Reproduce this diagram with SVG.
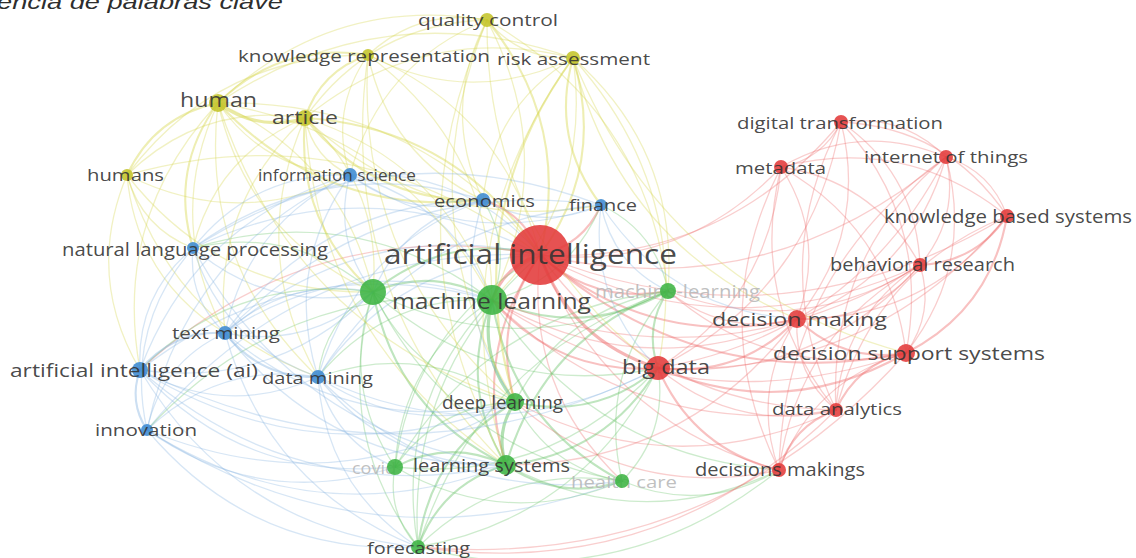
<svg xmlns="http://www.w3.org/2000/svg" width="1136" height="558" viewBox="0 0 1136 558">
<style>
#edges path{fill:none;vector-effect:non-scaling-stroke;stroke-linecap:round}
.r{stroke:#ee6b6b}.g{stroke:#66c266}.y{stroke:#d6d64a}.bl{stroke:#86b2e0}
.a{stroke-width:1.3;stroke-opacity:.33}.b{stroke-width:2.1;stroke-opacity:.42}.c{stroke-width:3.2;stroke-opacity:.5}
.nr{fill:#e33a3a}.ng{fill:#3db443}.ny{fill:#c4c42a}.nb{fill:#3c8ad2}
circle{fill-opacity:.88}
text{font-family:"Open Sans","DejaVu Sans",sans-serif;fill:#333;fill-opacity:.9}
.f{fill:#b8b8b8}
.t{font-family:"Liberation Sans",Arial,sans-serif;font-style:italic;fill:#111}
</style>
<rect width="1136" height="558" fill="#fff"/>
<text class="t" x="-3" y="9" font-size="21" textLength="286" lengthAdjust="spacingAndGlyphs">encia de palabras clave</text>
<g id="edges">
<path class="r c" transform="matrix(-48 45 -45 -48 540 255)" d="M0 0Q.5 .25 1 0"/>
<path class="g b" transform="matrix(-167 37 -37 -167 540 255)" d="M0 0Q.5 .25 1 0"/>
<path class="r b" transform="matrix(128 36 -36 128 540 255)" d="M0 0Q.5 .25 1 0"/>
<path class="r b" transform="matrix(-25 147 -147 -25 540 255)" d="M0 0Q.5 .25 1 0"/>
<path class="r b" transform="matrix(-34 210 -210 -34 540 255)" d="M0 0Q.5 .25 1 0"/>
<path class="g a" transform="matrix(-145 212 -212 -145 540 255)" d="M0 0Q.5 .25 1 0"/>
<path class="r a" transform="matrix(82 226 -226 82 540 255)" d="M0 0Q.5 .25 1 0"/>
<path class="g a" transform="matrix(-122 292 -292 -122 540 255)" d="M0 0Q.5 .25 1 0"/>
<path class="r c" transform="matrix(118 113 -113 118 540 255)" d="M0 0Q.5 .25 1 0"/>
<path class="r b" transform="matrix(257 64 -64 257 540 255)" d="M0 0Q.5 .25 1 0"/>
<path class="r b" transform="matrix(366 98 -98 366 540 255)" d="M0 0Q.5 .25 1 0"/>
<path class="r a" transform="matrix(380 10 -10 380 540 255)" d="M0 0Q.5 .25 1 0"/>
<path class="r a" transform="matrix(467 -39 39 467 540 255)" d="M0 0Q.5 .25 1 0"/>
<path class="r a" transform="matrix(406 -98 98 406 540 255)" d="M0 0Q.5 .25 1 0"/>
<path class="r a" transform="matrix(241 -88 88 241 540 255)" d="M0 0Q.5 .25 1 0"/>
<path class="r a" transform="matrix(301 -133 133 301 540 255)" d="M0 0Q.5 .25 1 0"/>
<path class="r a" transform="matrix(296 155 -155 296 540 255)" d="M0 0Q.5 .25 1 0"/>
<path class="r a" transform="matrix(239 215 -215 239 540 255)" d="M0 0Q.5 .25 1 0"/>
<path class="y b" transform="matrix(-53 -235 235 -53 540 255)" d="M0 0Q.5 .25 1 0"/>
<path class="y a" transform="matrix(-172 -200 200 -172 540 255)" d="M0 0Q.5 .25 1 0"/>
<path class="y b" transform="matrix(33 -197 197 33 540 255)" d="M0 0Q.5 .25 1 0"/>
<path class="y a" transform="matrix(-322 -152 152 -322 540 255)" d="M0 0Q.5 .25 1 0"/>
<path class="y b" transform="matrix(-235 -137 137 -235 540 255)" d="M0 0Q.5 .25 1 0"/>
<path class="y a" transform="matrix(-413 -80 80 -413 540 255)" d="M0 0Q.5 .25 1 0"/>
<path class="bl a" transform="matrix(-190 -80 80 -190 540 255)" d="M0 0Q.5 .25 1 0"/>
<path class="r b" transform="matrix(-57 -55 55 -57 540 255)" d="M0 0Q.5 .25 1 0"/>
<path class="r b" transform="matrix(61 -50 50 61 540 255)" d="M0 0Q.5 .25 1 0"/>
<path class="bl a" transform="matrix(-347 -7 7 -347 540 255)" d="M0 0Q.5 .25 1 0"/>
<path class="bl a" transform="matrix(-315 78 -78 -315 540 255)" d="M0 0Q.5 .25 1 0"/>
<path class="r a" transform="matrix(-400 115 -115 -400 540 255)" d="M0 0Q.5 .25 1 0"/>
<path class="bl a" transform="matrix(-222 122 -122 -222 540 255)" d="M0 0Q.5 .25 1 0"/>
<path class="bl a" transform="matrix(-393 175 -175 -393 540 255)" d="M0 0Q.5 .25 1 0"/>
<path class="g b" transform="matrix(-119 -8 8 -119 492 300)" d="M0 0Q.5 .25 1 0"/>
<path class="g b" transform="matrix(176 -9 9 176 492 300)" d="M0 0Q.5 .25 1 0"/>
<path class="g c" transform="matrix(23 102 -102 23 492 300)" d="M0 0Q.5 .25 1 0"/>
<path class="g b" transform="matrix(14 165 -165 14 492 300)" d="M0 0Q.5 .25 1 0"/>
<path class="g a" transform="matrix(-97 167 -167 -97 492 300)" d="M0 0Q.5 .25 1 0"/>
<path class="g b" transform="matrix(130 181 -181 130 492 300)" d="M0 0Q.5 .25 1 0"/>
<path class="g a" transform="matrix(-74 247 -247 -74 492 300)" d="M0 0Q.5 .25 1 0"/>
<path class="r b" transform="matrix(166 68 -68 166 492 300)" d="M0 0Q.5 .25 1 0"/>
<path class="r a" transform="matrix(305 19 -19 305 492 300)" d="M0 0Q.5 .25 1 0"/>
<path class="r a" transform="matrix(414 53 -53 414 492 300)" d="M0 0Q.5 .25 1 0"/>
<path class="r a" transform="matrix(344 110 -110 344 492 300)" d="M0 0Q.5 .25 1 0"/>
<path class="g a" transform="matrix(287 170 -170 287 492 300)" d="M0 0Q.5 .25 1 0"/>
<path class="bl a" transform="matrix(-267 33 -33 -267 492 300)" d="M0 0Q.5 .25 1 0"/>
<path class="g a" transform="matrix(-174 77 -77 -174 492 300)" d="M0 0Q.5 .25 1 0"/>
<path class="bl a" transform="matrix(-352 70 -70 -352 492 300)" d="M0 0Q.5 .25 1 0"/>
<path class="g a" transform="matrix(-299 -52 52 -299 492 300)" d="M0 0Q.5 .25 1 0"/>
<path class="bl a" transform="matrix(-142 -125 125 -142 492 300)" d="M0 0Q.5 .25 1 0"/>
<path class="y a" transform="matrix(-187 -182 182 -187 492 300)" d="M0 0Q.5 .25 1 0"/>
<path class="y a" transform="matrix(-274 -197 197 -274 492 300)" d="M0 0Q.5 .25 1 0"/>
<path class="y a" transform="matrix(-124 -245 245 -124 492 300)" d="M0 0Q.5 .25 1 0"/>
<path class="y a" transform="matrix(-5 -280 280 -5 492 300)" d="M0 0Q.5 .25 1 0"/>
<path class="y a" transform="matrix(81 -242 242 81 492 300)" d="M0 0Q.5 .25 1 0"/>
<path class="g a" transform="matrix(-9 -100 100 -9 492 300)" d="M0 0Q.5 .25 1 0"/>
<path class="g a" transform="matrix(109 -95 95 109 492 300)" d="M0 0Q.5 .25 1 0"/>
<path class="r a" transform="matrix(428 -35 35 428 492 300)" d="M0 0Q.5 .25 1 0"/>
<path class="g a" transform="matrix(-345 130 -130 -345 492 300)" d="M0 0Q.5 .25 1 0"/>
<path class="g a" transform="matrix(142 110 -110 142 373 292)" d="M0 0Q.5 .25 1 0"/>
<path class="g b" transform="matrix(133 173 -173 133 373 292)" d="M0 0Q.5 .25 1 0"/>
<path class="g a" transform="matrix(22 175 -175 22 373 292)" d="M0 0Q.5 .25 1 0"/>
<path class="g a" transform="matrix(45 255 -255 45 373 292)" d="M0 0Q.5 .25 1 0"/>
<path class="g a" transform="matrix(249 189 -189 249 373 292)" d="M0 0Q.5 .25 1 0"/>
<path class="bl a" transform="matrix(-148 41 -41 -148 373 292)" d="M0 0Q.5 .25 1 0"/>
<path class="g a" transform="matrix(-55 85 -85 -55 373 292)" d="M0 0Q.5 .25 1 0"/>
<path class="g a" transform="matrix(-180 -44 44 -180 373 292)" d="M0 0Q.5 .25 1 0"/>
<path class="y a" transform="matrix(-155 -189 189 -155 373 292)" d="M0 0Q.5 .25 1 0"/>
<path class="y a" transform="matrix(-68 -174 174 -68 373 292)" d="M0 0Q.5 .25 1 0"/>
<path class="g a" transform="matrix(285 76 -76 285 373 292)" d="M0 0Q.5 .25 1 0"/>
<path class="g a" transform="matrix(295 -1 1 295 373 292)" d="M0 0Q.5 .25 1 0"/>
<path class="g a" transform="matrix(-233 78 -78 -233 373 292)" d="M0 0Q.5 .25 1 0"/>
<path class="g b" transform="matrix(-10 77 -77 -10 668 291)" d="M0 0Q.5 .25 1 0"/>
<path class="g a" transform="matrix(-153 111 -111 -153 668 291)" d="M0 0Q.5 .25 1 0"/>
<path class="g b" transform="matrix(-162 174 -174 -162 668 291)" d="M0 0Q.5 .25 1 0"/>
<path class="g a" transform="matrix(-46 190 -190 -46 668 291)" d="M0 0Q.5 .25 1 0"/>
<path class="r a" transform="matrix(129 28 -28 129 668 291)" d="M0 0Q.5 .25 1 0"/>
<path class="r a" transform="matrix(238 62 -62 238 668 291)" d="M0 0Q.5 .25 1 0"/>
<path class="g a" transform="matrix(-250 256 -256 -250 668 291)" d="M0 0Q.5 .25 1 0"/>
<path class="g a" transform="matrix(-273 176 -176 -273 668 291)" d="M0 0Q.5 .25 1 0"/>
<path class="y a" transform="matrix(-95 -233 233 -95 668 291)" d="M0 0Q.5 .25 1 0"/>
<path class="y a" transform="matrix(-181 -271 271 -181 668 291)" d="M0 0Q.5 .25 1 0"/>
<path class="g a" transform="matrix(-67 -86 86 -67 668 291)" d="M0 0Q.5 .25 1 0"/>
<path class="r a" transform="matrix(252 -26 26 252 668 291)" d="M0 0Q.5 .25 1 0"/>
<path class="g c" transform="matrix(-9 63 -63 -9 515 402)" d="M0 0Q.5 .25 1 0"/>
<path class="g a" transform="matrix(-120 65 -65 -120 515 402)" d="M0 0Q.5 .25 1 0"/>
<path class="g a" transform="matrix(107 79 -79 107 515 402)" d="M0 0Q.5 .25 1 0"/>
<path class="g b" transform="matrix(-97 145 -145 -97 515 402)" d="M0 0Q.5 .25 1 0"/>
<path class="g b" transform="matrix(143 -34 34 143 515 402)" d="M0 0Q.5 .25 1 0"/>
<path class="g a" transform="matrix(-197 -25 25 -197 515 402)" d="M0 0Q.5 .25 1 0"/>
<path class="r a" transform="matrix(321 8 -8 321 515 402)" d="M0 0Q.5 .25 1 0"/>
<path class="r a" transform="matrix(264 68 -68 264 515 402)" d="M0 0Q.5 .25 1 0"/>
<path class="g b" transform="matrix(-111 2 -2 -111 506 465)" d="M0 0Q.5 .25 1 0"/>
<path class="g b" transform="matrix(116 16 -16 116 506 465)" d="M0 0Q.5 .25 1 0"/>
<path class="g b" transform="matrix(-88 82 -82 -88 506 465)" d="M0 0Q.5 .25 1 0"/>
<path class="g b" transform="matrix(152 -97 97 152 506 465)" d="M0 0Q.5 .25 1 0"/>
<path class="g a" transform="matrix(273 5 -5 273 506 465)" d="M0 0Q.5 .25 1 0"/>
<path class="r a" transform="matrix(291 -146 146 291 506 465)" d="M0 0Q.5 .25 1 0"/>
<path class="g a" transform="matrix(23 80 -80 23 395 467)" d="M0 0Q.5 .25 1 0"/>
<path class="g a" transform="matrix(227 14 -14 227 395 467)" d="M0 0Q.5 .25 1 0"/>
<path class="g a" transform="matrix(263 -99 99 263 395 467)" d="M0 0Q.5 .25 1 0"/>
<path class="g a" transform="matrix(-204 66 -66 -204 622 481)" d="M0 0Q.5 .25 1 0"/>
<path class="g a" transform="matrix(36 -113 113 36 622 481)" d="M0 0Q.5 .25 1 0"/>
<path class="g a" transform="matrix(157 -11 11 157 622 481)" d="M0 0Q.5 .25 1 0"/>
<path class="g a" transform="matrix(240 -179 179 240 418 547)" d="M0 0Q.5 .25 1 0"/>
<path class="g a" transform="matrix(361 -77 77 361 418 547)" d="M0 0Q.5 .25 1 0"/>
<path class="r a" transform="matrix(418 -137 137 418 418 547)" d="M0 0Q.5 .25 1 0"/>
<path class="r a" transform="matrix(488 -194 194 488 418 547)" d="M0 0Q.5 .25 1 0"/>
<path class="r b" transform="matrix(139 -49 49 139 658 368)" d="M0 0Q.5 .25 1 0"/>
<path class="r b" transform="matrix(248 -15 15 248 658 368)" d="M0 0Q.5 .25 1 0"/>
<path class="r a" transform="matrix(178 42 -42 178 658 368)" d="M0 0Q.5 .25 1 0"/>
<path class="r b" transform="matrix(121 102 -102 121 658 368)" d="M0 0Q.5 .25 1 0"/>
<path class="r a" transform="matrix(262 -103 103 262 658 368)" d="M0 0Q.5 .25 1 0"/>
<path class="r a" transform="matrix(123 -201 201 123 658 368)" d="M0 0Q.5 .25 1 0"/>
<path class="r a" transform="matrix(183 -246 246 183 658 368)" d="M0 0Q.5 .25 1 0"/>
<path class="r a" transform="matrix(288 -211 211 288 658 368)" d="M0 0Q.5 .25 1 0"/>
<path class="r a" transform="matrix(349 -152 152 349 658 368)" d="M0 0Q.5 .25 1 0"/>
<path class="y a" transform="matrix(-85 -310 310 -85 658 368)" d="M0 0Q.5 .25 1 0"/>
<path class="r b" transform="matrix(109 34 -34 109 797 319)" d="M0 0Q.5 .25 1 0"/>
<path class="r a" transform="matrix(39 91 -91 39 797 319)" d="M0 0Q.5 .25 1 0"/>
<path class="r a" transform="matrix(-18 151 -151 -18 797 319)" d="M0 0Q.5 .25 1 0"/>
<path class="r a" transform="matrix(123 -54 54 123 797 319)" d="M0 0Q.5 .25 1 0"/>
<path class="r a" transform="matrix(210 -103 103 210 797 319)" d="M0 0Q.5 .25 1 0"/>
<path class="r a" transform="matrix(149 -162 162 149 797 319)" d="M0 0Q.5 .25 1 0"/>
<path class="r a" transform="matrix(-16 -152 152 -16 797 319)" d="M0 0Q.5 .25 1 0"/>
<path class="r a" transform="matrix(44 -197 197 44 797 319)" d="M0 0Q.5 .25 1 0"/>
<path class="r b" transform="matrix(-70 57 -57 -70 906 353)" d="M0 0Q.5 .25 1 0"/>
<path class="r a" transform="matrix(-127 117 -117 -127 906 353)" d="M0 0Q.5 .25 1 0"/>
<path class="r a" transform="matrix(14 -88 88 14 906 353)" d="M0 0Q.5 .25 1 0"/>
<path class="r b" transform="matrix(101 -137 137 101 906 353)" d="M0 0Q.5 .25 1 0"/>
<path class="r a" transform="matrix(40 -196 196 40 906 353)" d="M0 0Q.5 .25 1 0"/>
<path class="r a" transform="matrix(-125 -186 186 -125 906 353)" d="M0 0Q.5 .25 1 0"/>
<path class="r a" transform="matrix(-65 -231 231 -65 906 353)" d="M0 0Q.5 .25 1 0"/>
<path class="r b" transform="matrix(87 -49 49 87 920 265)" d="M0 0Q.5 .25 1 0"/>
<path class="r a" transform="matrix(26 -108 108 26 920 265)" d="M0 0Q.5 .25 1 0"/>
<path class="r a" transform="matrix(-139 -98 98 -139 920 265)" d="M0 0Q.5 .25 1 0"/>
<path class="r a" transform="matrix(-79 -143 143 -79 920 265)" d="M0 0Q.5 .25 1 0"/>
<path class="r a" transform="matrix(-84 145 -145 -84 920 265)" d="M0 0Q.5 .25 1 0"/>
<path class="r a" transform="matrix(-141 205 -205 -141 920 265)" d="M0 0Q.5 .25 1 0"/>
<path class="r a" transform="matrix(-61 -59 59 -61 1007 216)" d="M0 0Q.5 .25 1 0"/>
<path class="r a" transform="matrix(-226 -49 49 -226 1007 216)" d="M0 0Q.5 .25 1 0"/>
<path class="r a" transform="matrix(-166 -94 94 -166 1007 216)" d="M0 0Q.5 .25 1 0"/>
<path class="r a" transform="matrix(-171 194 -194 -171 1007 216)" d="M0 0Q.5 .25 1 0"/>
<path class="r a" transform="matrix(-165 10 -10 -165 946 157)" d="M0 0Q.5 .25 1 0"/>
<path class="r a" transform="matrix(-105 -35 35 -105 946 157)" d="M0 0Q.5 .25 1 0"/>
<path class="r a" transform="matrix(-110 253 -253 -110 946 157)" d="M0 0Q.5 .25 1 0"/>
<path class="r a" transform="matrix(-167 313 -313 -167 946 157)" d="M0 0Q.5 .25 1 0"/>
<path class="r a" transform="matrix(60 -45 45 60 781 167)" d="M0 0Q.5 .25 1 0"/>
<path class="r a" transform="matrix(55 243 -243 55 781 167)" d="M0 0Q.5 .25 1 0"/>
<path class="r a" transform="matrix(-2 303 -303 -2 781 167)" d="M0 0Q.5 .25 1 0"/>
<path class="r a" transform="matrix(-5 288 -288 -5 841 122)" d="M0 0Q.5 .25 1 0"/>
<path class="r b" transform="matrix(-57 60 -60 -57 836 410)" d="M0 0Q.5 .25 1 0"/>
<path class="y a" transform="matrix(-119 35 -35 -119 487 20)" d="M0 0Q.5 .25 1 0"/>
<path class="y a" transform="matrix(86 38 -38 86 487 20)" d="M0 0Q.5 .25 1 0"/>
<path class="y a" transform="matrix(-182 98 -98 -182 487 20)" d="M0 0Q.5 .25 1 0"/>
<path class="y a" transform="matrix(-269 83 -83 -269 487 20)" d="M0 0Q.5 .25 1 0"/>
<path class="y a" transform="matrix(28 382 -382 28 487 20)" d="M0 0Q.5 .25 1 0"/>
<path class="y a" transform="matrix(19 445 -445 19 487 20)" d="M0 0Q.5 .25 1 0"/>
<path class="y a" transform="matrix(171 348 -348 171 487 20)" d="M0 0Q.5 .25 1 0"/>
<path class="y a" transform="matrix(-4 180 -180 -4 487 20)" d="M0 0Q.5 .25 1 0"/>
<path class="y a" transform="matrix(-137 155 -155 -137 487 20)" d="M0 0Q.5 .25 1 0"/>
<path class="y a" transform="matrix(205 3 -3 205 368 55)" d="M0 0Q.5 .25 1 0"/>
<path class="y b" transform="matrix(-150 48 -48 -150 368 55)" d="M0 0Q.5 .25 1 0"/>
<path class="y b" transform="matrix(-63 63 -63 -63 368 55)" d="M0 0Q.5 .25 1 0"/>
<path class="y a" transform="matrix(-241 120 -120 -241 368 55)" d="M0 0Q.5 .25 1 0"/>
<path class="y a" transform="matrix(-18 120 -120 -18 368 55)" d="M0 0Q.5 .25 1 0"/>
<path class="y a" transform="matrix(115 145 -145 115 368 55)" d="M0 0Q.5 .25 1 0"/>
<path class="y a" transform="matrix(138 410 -410 138 368 55)" d="M0 0Q.5 .25 1 0"/>
<path class="y a" transform="matrix(147 347 -347 147 368 55)" d="M0 0Q.5 .25 1 0"/>
<path class="y a" transform="matrix(-268 60 -60 -268 573 58)" d="M0 0Q.5 .25 1 0"/>
<path class="y a" transform="matrix(-355 45 -45 -355 573 58)" d="M0 0Q.5 .25 1 0"/>
<path class="y b" transform="matrix(-58 344 -344 -58 573 58)" d="M0 0Q.5 .25 1 0"/>
<path class="y a" transform="matrix(-67 407 -407 -67 573 58)" d="M0 0Q.5 .25 1 0"/>
<path class="y a" transform="matrix(224 261 -261 224 573 58)" d="M0 0Q.5 .25 1 0"/>
<path class="y a" transform="matrix(-90 142 -142 -90 573 58)" d="M0 0Q.5 .25 1 0"/>
<path class="y b" transform="matrix(28 147 -147 28 573 58)" d="M0 0Q.5 .25 1 0"/>
<path class="y a" transform="matrix(333 295 -295 333 573 58)" d="M0 0Q.5 .25 1 0"/>
<path class="y c" transform="matrix(87 15 -15 87 218 103)" d="M0 0Q.5 .25 1 0"/>
<path class="y b" transform="matrix(-91 72 -72 -91 218 103)" d="M0 0Q.5 .25 1 0"/>
<path class="y a" transform="matrix(132 72 -72 132 218 103)" d="M0 0Q.5 .25 1 0"/>
<path class="y b" transform="matrix(-25 145 -145 -25 218 103)" d="M0 0Q.5 .25 1 0"/>
<path class="y a" transform="matrix(7 230 -230 7 218 103)" d="M0 0Q.5 .25 1 0"/>
<path class="y a" transform="matrix(100 274 -274 100 218 103)" d="M0 0Q.5 .25 1 0"/>
<path class="y a" transform="matrix(-78 267 -267 -78 218 103)" d="M0 0Q.5 .25 1 0"/>
<path class="y b" transform="matrix(265 97 -97 265 218 103)" d="M0 0Q.5 .25 1 0"/>
<path class="y a" transform="matrix(155 189 -189 155 218 103)" d="M0 0Q.5 .25 1 0"/>
<path class="y a" transform="matrix(297 299 -299 297 218 103)" d="M0 0Q.5 .25 1 0"/>
<path class="y a" transform="matrix(-178 57 -57 -178 305 118)" d="M0 0Q.5 .25 1 0"/>
<path class="y a" transform="matrix(45 57 -57 45 305 118)" d="M0 0Q.5 .25 1 0"/>
<path class="y a" transform="matrix(-112 130 -130 -112 305 118)" d="M0 0Q.5 .25 1 0"/>
<path class="y a" transform="matrix(-80 215 -215 -80 305 118)" d="M0 0Q.5 .25 1 0"/>
<path class="y a" transform="matrix(13 259 -259 13 305 118)" d="M0 0Q.5 .25 1 0"/>
<path class="y b" transform="matrix(178 82 -82 178 305 118)" d="M0 0Q.5 .25 1 0"/>
<path class="y a" transform="matrix(296 87 -87 296 305 118)" d="M0 0Q.5 .25 1 0"/>
<path class="y b" transform="matrix(68 174 -174 68 305 118)" d="M0 0Q.5 .25 1 0"/>
<path class="y a" transform="matrix(201 347 -347 201 305 118)" d="M0 0Q.5 .25 1 0"/>
<path class="y a" transform="matrix(66 73 -73 66 127 175)" d="M0 0Q.5 .25 1 0"/>
<path class="y a" transform="matrix(98 158 -158 98 127 175)" d="M0 0Q.5 .25 1 0"/>
<path class="y a" transform="matrix(223 0 0 223 127 175)" d="M0 0Q.5 .25 1 0"/>
<path class="y a" transform="matrix(13 195 -195 13 127 175)" d="M0 0Q.5 .25 1 0"/>
<path class="y a" transform="matrix(246 117 -117 246 127 175)" d="M0 0Q.5 .25 1 0"/>
<path class="y a" transform="matrix(191 202 -202 191 127 175)" d="M0 0Q.5 .25 1 0"/>
<path class="bl a" transform="matrix(133 25 -25 133 350 175)" d="M0 0Q.5 .25 1 0"/>
<path class="bl a" transform="matrix(251 30 -30 251 350 175)" d="M0 0Q.5 .25 1 0"/>
<path class="bl a" transform="matrix(-157 73 -73 -157 350 175)" d="M0 0Q.5 .25 1 0"/>
<path class="bl a" transform="matrix(-125 158 -158 -125 350 175)" d="M0 0Q.5 .25 1 0"/>
<path class="bl a" transform="matrix(-32 202 -202 -32 350 175)" d="M0 0Q.5 .25 1 0"/>
<path class="bl a" transform="matrix(-210 195 -195 -210 350 175)" d="M0 0Q.5 .25 1 0"/>
<path class="bl a" transform="matrix(23 117 -117 23 350 175)" d="M0 0Q.5 .25 1 0"/>
<path class="bl a" transform="matrix(-203 255 -255 -203 350 175)" d="M0 0Q.5 .25 1 0"/>
<path class="bl a" transform="matrix(118 5 -5 118 483 200)" d="M0 0Q.5 .25 1 0"/>
<path class="bl a" transform="matrix(-290 48 -48 -290 483 200)" d="M0 0Q.5 .25 1 0"/>
<path class="bl a" transform="matrix(-258 133 -133 -258 483 200)" d="M0 0Q.5 .25 1 0"/>
<path class="bl a" transform="matrix(-165 177 -177 -165 483 200)" d="M0 0Q.5 .25 1 0"/>
<path class="bl a" transform="matrix(-110 92 -92 -110 483 200)" d="M0 0Q.5 .25 1 0"/>
<path class="bl a" transform="matrix(32 202 -202 32 483 200)" d="M0 0Q.5 .25 1 0"/>
<path class="bl a" transform="matrix(-408 43 -43 -408 601 205)" d="M0 0Q.5 .25 1 0"/>
<path class="bl a" transform="matrix(-376 128 -128 -376 601 205)" d="M0 0Q.5 .25 1 0"/>
<path class="bl a" transform="matrix(-283 172 -172 -283 601 205)" d="M0 0Q.5 .25 1 0"/>
<path class="bl a" transform="matrix(57 163 -163 57 601 205)" d="M0 0Q.5 .25 1 0"/>
<path class="bl a" transform="matrix(67 86 -86 67 601 205)" d="M0 0Q.5 .25 1 0"/>
<path class="bl a" transform="matrix(196 114 -114 196 601 205)" d="M0 0Q.5 .25 1 0"/>
<path class="bl a" transform="matrix(32 85 -85 32 193 248)" d="M0 0Q.5 .25 1 0"/>
<path class="bl a" transform="matrix(-53 122 -122 -53 193 248)" d="M0 0Q.5 .25 1 0"/>
<path class="bl a" transform="matrix(125 129 -129 125 193 248)" d="M0 0Q.5 .25 1 0"/>
<path class="bl a" transform="matrix(-46 182 -182 -46 193 248)" d="M0 0Q.5 .25 1 0"/>
<path class="bl a" transform="matrix(180 44 -44 180 193 248)" d="M0 0Q.5 .25 1 0"/>
<path class="bl a" transform="matrix(313 217 -217 313 193 248)" d="M0 0Q.5 .25 1 0"/>
<path class="bl b" transform="matrix(-85 37 -37 -85 225 333)" d="M0 0Q.5 .25 1 0"/>
<path class="bl b" transform="matrix(93 44 -44 93 225 333)" d="M0 0Q.5 .25 1 0"/>
<path class="bl a" transform="matrix(-78 97 -97 -78 225 333)" d="M0 0Q.5 .25 1 0"/>
<path class="bl a" transform="matrix(148 -41 41 148 225 333)" d="M0 0Q.5 .25 1 0"/>
<path class="bl a" transform="matrix(290 69 -69 290 225 333)" d="M0 0Q.5 .25 1 0"/>
<path class="bl a" transform="matrix(281 132 -132 281 225 333)" d="M0 0Q.5 .25 1 0"/>
<path class="bl a" transform="matrix(193 214 -214 193 225 333)" d="M0 0Q.5 .25 1 0"/>
<path class="bl a" transform="matrix(178 7 -7 178 140 370)" d="M0 0Q.5 .25 1 0"/>
<path class="bl b" transform="matrix(7 60 -60 7 140 370)" d="M0 0Q.5 .25 1 0"/>
<path class="bl a" transform="matrix(233 -78 78 233 140 370)" d="M0 0Q.5 .25 1 0"/>
<path class="bl a" transform="matrix(375 32 -32 375 140 370)" d="M0 0Q.5 .25 1 0"/>
<path class="bl a" transform="matrix(366 95 -95 366 140 370)" d="M0 0Q.5 .25 1 0"/>
<path class="bl a" transform="matrix(278 177 -177 278 140 370)" d="M0 0Q.5 .25 1 0"/>
<path class="bl a" transform="matrix(255 97 -97 255 140 370)" d="M0 0Q.5 .25 1 0"/>
<path class="bl a" transform="matrix(518 -2 2 518 140 370)" d="M0 0Q.5 .25 1 0"/>
<path class="bl a" transform="matrix(-171 53 -53 -171 318 377)" d="M0 0Q.5 .25 1 0"/>
<path class="bl a" transform="matrix(197 25 -25 197 318 377)" d="M0 0Q.5 .25 1 0"/>
<path class="bl a" transform="matrix(188 88 -88 188 318 377)" d="M0 0Q.5 .25 1 0"/>
<path class="bl a" transform="matrix(77 90 -90 77 318 377)" d="M0 0Q.5 .25 1 0"/>
<path class="bl a" transform="matrix(100 170 -170 100 318 377)" d="M0 0Q.5 .25 1 0"/>
<path class="bl a" transform="matrix(340 -9 9 340 318 377)" d="M0 0Q.5 .25 1 0"/>
<path class="bl a" transform="matrix(304 104 -104 304 318 377)" d="M0 0Q.5 .25 1 0"/>
<path class="bl a" transform="matrix(359 35 -35 359 147 430)" d="M0 0Q.5 .25 1 0"/>
<path class="bl a" transform="matrix(368 -28 28 368 147 430)" d="M0 0Q.5 .25 1 0"/>
<path class="bl a" transform="matrix(271 117 -117 271 147 430)" d="M0 0Q.5 .25 1 0"/>
<path class="bl a" transform="matrix(248 37 -37 248 147 430)" d="M0 0Q.5 .25 1 0"/>
<path class="bl a" transform="matrix(475 51 -51 475 147 430)" d="M0 0Q.5 .25 1 0"/>
</g>
<g id="n-covid"><text class="f" x="352" y="474" font-size="17" textLength="44" lengthAdjust="spacingAndGlyphs">covid</text><circle class="ng" cx="395" cy="467" r="8"/></g>
<g id="n-health-care"><text class="f" x="571" y="488" font-size="17" textLength="106" lengthAdjust="spacingAndGlyphs">health care</text><circle class="ng" cx="622" cy="481" r="7"/></g>
<g id="n-machine-learning-2"><text class="f" x="595" y="298" font-size="19" textLength="165" lengthAdjust="spacingAndGlyphs">machine-learning</text><circle class="ng" cx="668" cy="291" r="8"/></g>
<g id="n-cl"><circle class="ng" cx="373" cy="292" r="13"/></g>
<g id="n-ai"><circle class="nr" cx="540" cy="255" r="30"/><text x="384" y="264" font-size="27" textLength="293" lengthAdjust="spacingAndGlyphs">artificial intelligence</text></g>
<g id="n-ml"><circle class="ng" cx="492" cy="300" r="15"/><text x="392" y="309" font-size="22" textLength="199" lengthAdjust="spacingAndGlyphs">machine learning</text></g>
<g id="n-dl"><circle class="ng" cx="515" cy="402" r="9"/><text x="442" y="409" font-size="19" textLength="121" lengthAdjust="spacingAndGlyphs">deep learning</text></g>
<g id="n-ls"><circle class="ng" cx="506" cy="465" r="10"/><text x="413" y="472" font-size="19" textLength="157" lengthAdjust="spacingAndGlyphs">learning systems</text></g>
<g id="n-fc"><circle class="ng" cx="418" cy="547" r="7"/><text x="367" y="554" font-size="17" textLength="103" lengthAdjust="spacingAndGlyphs">forecasting</text></g>
<g id="n-bd"><circle class="nr" cx="658" cy="368" r="12"/><text x="622" y="374" font-size="20" textLength="88" lengthAdjust="spacingAndGlyphs">big data</text></g>
<g id="n-dm"><circle class="nr" cx="797" cy="319" r="9"/><text x="712" y="326" font-size="19" textLength="175" lengthAdjust="spacingAndGlyphs">decision making</text></g>
<g id="n-dss"><circle class="nr" cx="906" cy="353" r="9"/><text x="773" y="360" font-size="19" textLength="272" lengthAdjust="spacingAndGlyphs">decision support systems</text></g>
<g id="n-da"><circle class="nr" cx="836" cy="410" r="7"/><text x="772" y="415" font-size="17" textLength="130" lengthAdjust="spacingAndGlyphs">data analytics</text></g>
<g id="n-dms"><circle class="nr" cx="779" cy="470" r="7"/><text x="695" y="476" font-size="17.5" textLength="170" lengthAdjust="spacingAndGlyphs">decisions makings</text></g>
<g id="n-dt"><circle class="nr" cx="841" cy="122" r="7"/><text x="737" y="129" font-size="17" textLength="206" lengthAdjust="spacingAndGlyphs">digital transformation</text></g>
<g id="n-md"><circle class="nr" cx="781" cy="167" r="7"/><text x="735" y="174" font-size="17" textLength="91" lengthAdjust="spacingAndGlyphs">metadata</text></g>
<g id="n-iot"><circle class="nr" cx="946" cy="157" r="7"/><text x="864" y="163" font-size="17" textLength="164" lengthAdjust="spacingAndGlyphs">internet of things</text></g>
<g id="n-kbs"><circle class="nr" cx="1007" cy="216" r="7"/><text x="884" y="223" font-size="17.5" textLength="248" lengthAdjust="spacingAndGlyphs">knowledge based systems</text></g>
<g id="n-br"><circle class="nr" cx="920" cy="265" r="7"/><text x="830" y="271" font-size="17.5" textLength="185" lengthAdjust="spacingAndGlyphs">behavioral research</text></g>
<g id="n-qc"><circle class="ny" cx="487" cy="20" r="7"/><text x="418" y="26" font-size="17" textLength="140" lengthAdjust="spacingAndGlyphs">quality control</text></g>
<g id="n-kr"><circle class="ny" cx="368" cy="55" r="6"/><text x="238" y="62" font-size="17" textLength="252" lengthAdjust="spacingAndGlyphs">knowledge representation</text></g>
<g id="n-ra"><circle class="ny" cx="573" cy="58" r="7"/><text x="497" y="65" font-size="17" textLength="153" lengthAdjust="spacingAndGlyphs">risk assessment</text></g>
<g id="n-human"><circle class="ny" cx="218" cy="103" r="9"/><text x="180" y="107" font-size="20" textLength="77" lengthAdjust="spacingAndGlyphs">human</text></g>
<g id="n-article"><circle class="ny" cx="305" cy="118" r="8"/><text x="272" y="124" font-size="19" textLength="66" lengthAdjust="spacingAndGlyphs">article</text></g>
<g id="n-humans"><circle class="ny" cx="127" cy="175" r="6"/><text x="87" y="181" font-size="17" textLength="77" lengthAdjust="spacingAndGlyphs">humans</text></g>
<g id="n-is"><circle class="nb" cx="350" cy="175" r="7"/><text x="258" y="181" font-size="17" textLength="158" lengthAdjust="spacingAndGlyphs">information science</text></g>
<g id="n-ec"><circle class="nb" cx="483" cy="200" r="7"/><text x="434" y="207" font-size="17" textLength="101" lengthAdjust="spacingAndGlyphs">economics</text></g>
<g id="n-fi"><circle class="nb" cx="601" cy="205" r="6"/><text x="569" y="211" font-size="17" textLength="68" lengthAdjust="spacingAndGlyphs">finance</text></g>
<g id="n-nlp"><circle class="nb" cx="193" cy="248" r="6"/><text x="62" y="256" font-size="17.5" textLength="266" lengthAdjust="spacingAndGlyphs">natural language processing</text></g>
<g id="n-tm"><circle class="nb" cx="225" cy="333" r="7"/><text x="172" y="339" font-size="17" textLength="108" lengthAdjust="spacingAndGlyphs">text mining</text></g>
<g id="n-aiai"><circle class="nb" cx="140" cy="370" r="8"/><text x="10" y="377" font-size="19" textLength="248" lengthAdjust="spacingAndGlyphs">artificial intelligence (ai)</text></g>
<g id="n-dmi"><circle class="nb" cx="318" cy="377" r="7"/><text x="262" y="384" font-size="17" textLength="111" lengthAdjust="spacingAndGlyphs">data mining</text></g>
<g id="n-in"><circle class="nb" cx="147" cy="430" r="6"/><text x="95" y="436" font-size="17" textLength="102" lengthAdjust="spacingAndGlyphs">innovation</text></g>
</svg>
